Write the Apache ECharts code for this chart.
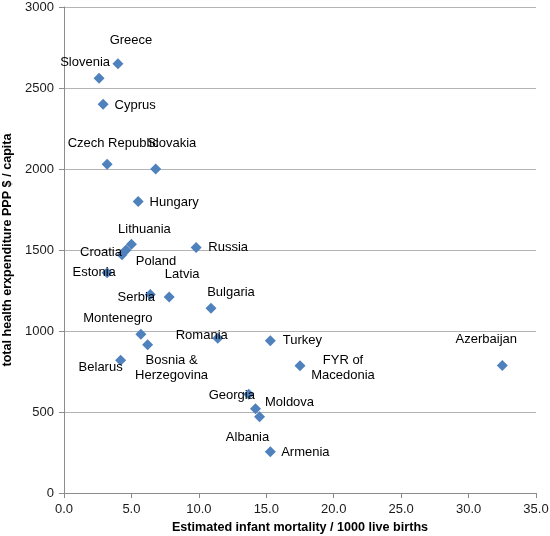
<!DOCTYPE html>
<html>
<head>
<meta charset="utf-8">
<script src="https://cdn.jsdelivr.net/npm/echarts@6/dist/echarts.min.js"></script>
<style>html,body{margin:0;padding:0;background:#fff;overflow:hidden;}#c{width:550px;height:536px;}</style>
</head>
<body>
<div id="c"></div>
<script>
var countries = ["Greece","Slovenia","Cyprus","Czech Republic","Slovakia","Hungary","Croatia","Poland","Lithuania","Russia","Estonia","Serbia","Latvia","Bulgaria","Montenegro","Bosnia &\nHerzegovina","Romania","Turkey","Belarus","FYR of\nMacedonia","Azerbaijan","Georgia","Moldova","Albania","Armenia"];
var mortality = [4.0,2.6,2.9,3.2,6.8,5.5,4.3,4.6,5.0,9.8,3.2,6.4,7.8,10.9,5.7,6.2,11.4,15.3,4.2,17.5,32.5,13.7,14.2,14.5,15.3];
var expenditure = [2650,2560,2400,2030,2000,1800,1470,1500,1535,1515,1360,1225,1210,1140,980,915,955,940,820,785,787,610,520,470,255];
var xTicks = {min:0, max:35, interval:5};
var yTicks = {min:0, max:3000, interval:500};

// label placement (pixel offsets from marker centre), layout only
var labelOffsets = {
  "Greece":[13,-23],"Slovenia":[-14,-16],"Cyprus":[32,1],"Czech Republic":[6,-21],
  "Slovakia":[16,-26],"Hungary":[36,1],"Croatia":[-21,-2],"Poland":[30,11],
  "Lithuania":[13,-15],"Russia":[32,0],"Estonia":[-13,0],"Serbia":[-14,3],
  "Latvia":[13,-23],"Bulgaria":[20,-16],"Montenegro":[-23,-16],"Bosnia &\nHerzegovina":[24,23],
  "Romania":[-16,-3],"Turkey":[32,0],"Belarus":[-20,7],"FYR of\nMacedonia":[43,2],
  "Azerbaijan":[-16,-26],"Georgia":[-17,1],"Moldova":[34,-6],"Albania":[-12,21],"Armenia":[35,1]
};

var FONT = '"Liberation Sans", Arial, sans-serif';
var SYM = 11;
var data = countries.map(function(name, i){
  var o = labelOffsets[name] || [0,-15];
  return {
    name: name,
    value: [mortality[i], expenditure[i]],
    label: {show:true, position:[SYM/2 + o[0], SYM/2 + o[1]], align:'center', verticalAlign:'middle'}
  };
});

var chart = echarts.init(document.getElementById('c'), null, {renderer:'canvas'});
chart.setOption({
  animation:false,
  backgroundColor:'#ffffff',
  grid:{left:64, right:14, top:7, bottom:43, containLabel:false, outerBoundsMode:'none'},
  xAxis:{
    type:'value', min:xTicks.min, max:xTicks.max, interval:xTicks.interval,
    name:'Estimated infant mortality / 1000 live births',
    nameLocation:'middle', nameGap:27,
    nameTextStyle:{fontFamily:FONT, fontSize:12.6, fontWeight:'bold', color:'#000'},
    axisLine:{show:true, onZero:false, lineStyle:{color:'#8c8c8c', width:1}},
    axisTick:{show:true, inside:false, length:5, lineStyle:{color:'#8c8c8c'}},
    axisLabel:{margin:10, fontFamily:FONT, fontSize:13, color:'#1a1a1a', formatter:function(v){return v.toFixed(1);}},
    splitLine:{show:false}
  },
  yAxis:{
    type:'value', min:yTicks.min, max:yTicks.max, interval:yTicks.interval,
    name:'total health erxpenditure PPP $ / capita',
    nameLocation:'middle', nameGap:42,
    nameTextStyle:{fontFamily:FONT, fontSize:12.6, fontWeight:'bold', color:'#000'},
    axisLine:{show:true, onZero:false, lineStyle:{color:'#8c8c8c', width:1}},
    axisTick:{show:true, inside:false, length:5, lineStyle:{color:'#8c8c8c'}},
    axisLabel:{margin:10, fontFamily:FONT, fontSize:13, color:'#1a1a1a', formatter:function(v){return String(v);}},
    splitLine:{show:true, lineStyle:{color:'#b4b4b4', width:1}}
  },
  series:[{
    type:'scatter',
    symbol:'diamond',
    symbolSize:SYM,
    itemStyle:{color:'#4F81BD', opacity:1},
    label:{show:true, formatter:'{b}', fontFamily:FONT, fontSize:13, color:'#000', align:'center', verticalAlign:'middle', lineHeight:15},
    labelLayout:{hideOverlap:false},
    data:data
  }]
});
</script>
</body>
</html>
